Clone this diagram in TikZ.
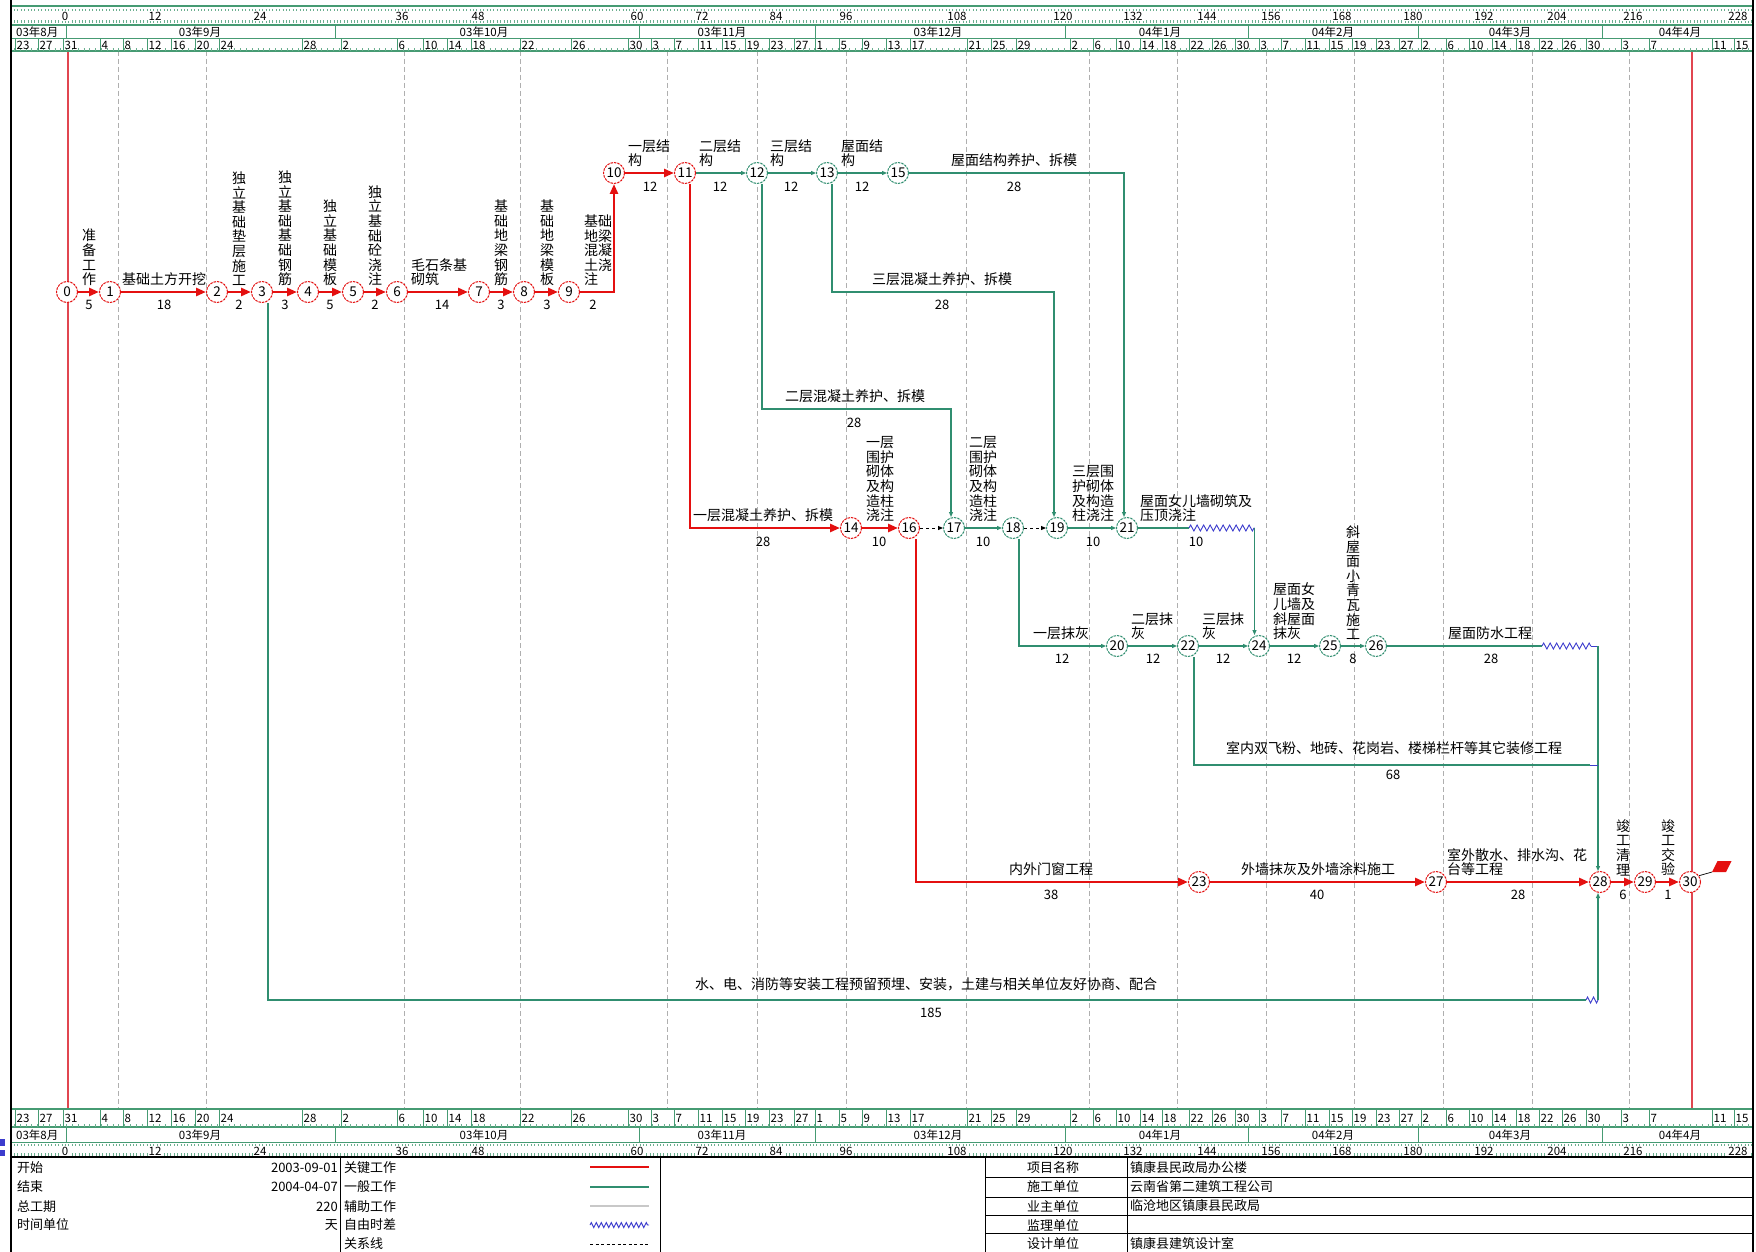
\documentclass[tikz,border=0pt]{standalone}
\usepackage{fontspec}
\setmainfont{Noto Sans CJK SC}
\usetikzlibrary{arrows.meta,decorations.pathmorphing,calc}
\definecolor{cred}{RGB}{228,16,16}
\definecolor{cgreen}{RGB}{48,142,112}
\definecolor{hgreen}{RGB}{70,155,115}
\definecolor{cgrid}{RGB}{175,175,175}
\definecolor{cblue}{RGB}{60,60,205}
\definecolor{cline}{RGB}{225,70,80}
\definecolor{cgray}{RGB}{200,200,200}
\newcommand{\lfont}{\fontsize{14}{14.6}\selectfont}
\newcommand{\nfont}{\fontsize{13}{13}\selectfont}
\newcommand{\cfont}{\fontsize{13.5}{13.5}\selectfont}
\newcommand{\hfont}{\fontsize{11.5}{12}\selectfont}
\newcommand{\gfont}{\fontsize{13}{14}\selectfont}
\begin{document}
\begin{tikzpicture}[x=1pt,y=-1pt,
  crit/.style={draw=cred,line width=2.7pt,-{Triangle[length=10pt,width=8pt]}},
  norm/.style={draw=cgreen,line width=1.1pt,-{Triangle[length=5pt,width=4pt]}},
  nrl/.style={draw=cgreen,line width=1.1pt},
  rel/.style={draw=black,line width=1pt,dash pattern=on 3pt off 3pt,-{Triangle[length=5pt,width=4pt]}},
  wav/.style={draw=cblue,line width=0.9pt,decorate,decoration={zigzag,segment length=6.5pt,amplitude=3pt}},
  nd/.style={circle,minimum size=21pt,inner sep=0pt,line width=1pt,dash pattern=on 2.5pt off 1pt,fill=white,font=\cfont},
  rn/.style={nd,draw=cred},
  gn/.style={nd,draw=cgreen},
  lab/.style={font=\lfont,align=left,inner sep=0pt,anchor=south},
  num/.style={font=\nfont,inner sep=0pt},
  hl/.style={font=\hfont,inner sep=0pt},
  gl/.style={font=\gfont,inner sep=0pt},
]
\useasboundingbox (0,0) rectangle (1756,1252);
\fill[white] (0,0) rectangle (1756,1252);

% grid lines
\foreach \gx in {118,206,404,520,667,757,846,966,1089,1177,1266,1354,1443,1532,1629}
  \draw[cgrid,line width=0.7pt,dash pattern=on 5pt off 3pt] (\gx,51) -- (\gx,1109);
% start / end lines
\draw[cline,line width=1.2pt] (68,51) -- (68,1109);
\draw[cline,line width=1.2pt] (1692,51) -- (1692,1109);

% ===== headers =====
\begin{scope}
\clip (11,0) rectangle (1753,1252);
% top
\draw[hgreen,line width=2pt] (11,6) -- (1753,6);
\draw[hgreen,line width=1.2pt] (11,25) -- (1753,25);
\draw[hgreen,line width=1pt] (11,39) -- (1753,39);
\draw[hgreen,line width=1.2pt] (11,51) -- (1753,51);
\draw[hgreen!80,line width=2.5pt,dash pattern=on 0.8pt off 2.6pt] (14,10) -- (1753,10);
\draw[hgreen!80,line width=2.5pt,dash pattern=on 0.8pt off 2.6pt] (14,21.5) -- (1753,21.5);
\draw[hgreen!80,line width=2.5pt,dash pattern=on 0.8pt off 5pt] (14,49.5) -- (1753,49.5);
% bottom
\draw[hgreen,line width=2pt] (11,1109) -- (1753,1109);
\draw[hgreen,line width=1.2pt] (11,1127) -- (1753,1127);
\draw[hgreen,line width=1pt] (11,1142) -- (1753,1142);
\draw[hgreen!80,line width=2.5pt,dash pattern=on 0.8pt off 5pt] (14,1125.5) -- (1753,1125.5);
\draw[hgreen!80,line width=2.5pt,dash pattern=on 0.8pt off 2.6pt] (14,1145) -- (1753,1145);
\draw[hgreen!80,line width=2.5pt,dash pattern=on 0.8pt off 2.6pt] (14,1154.5) -- (1753,1154.5);
% month separators
\foreach \mx in {66,335,639,815,1065,1248,1418,1602} {
  \draw[hgreen,line width=1pt] (\mx,25) -- (\mx,39);
  \draw[hgreen,line width=1pt] (\mx,1127) -- (\mx,1142);
}
% month labels
\node[hl,anchor=west] (mt0) at (16,32) {03年8月};
\node[hl,anchor=west] (mb0) at (16,1135) {03年8月};
\foreach \mx/\mt [count=\i] in {200/03年9月,484/03年10月,722/03年11月,938/03年12月,1160/04年1月,1333/04年2月,1510/04年3月,1680/04年4月} {
  \node[hl] (mt\i) at (\mx,32) {\mt};
  \node[hl] (mb\i) at (\mx,1135) {\mt};
}
% dates
\foreach \dx/\dt [count=\i] in {15/23,38/27,63/31,100/4,123/8,147/12,171/16,195/20,219/24,302/28,341/2,397/6,423/10,447/14,471/18,520/22,571/26,628/30,651/3,674/7,698/11,722/15,745/19,769/23,794/27,815/1,839/5,862/9,886/13,910/17,967/21,991/25,1016/29,1070/2,1093/6,1116/10,1140/14,1162/18,1189/22,1212/26,1235/30,1259/3,1281/7,1305/11,1329/15,1352/19,1376/23,1399/27,1421/2,1446/6,1469/10,1492/14,1516/18,1539/22,1562/26,1586/30,1621/3,1649/7,1712/11,1734/15} {
  \draw[hgreen,line width=0.9pt] (\dx,39) -- (\dx,51);
  \draw[hgreen,line width=0.9pt] (\dx,1109) -- (\dx,1127);
  \node[hl,anchor=west] (dt\i) at (\dx+1.5,45) {\dt};
  \node[hl,anchor=west] (db\i) at (\dx+1.5,1118) {\dt};
}
% day numbers
\foreach \nx/\nt [count=\i] in {65/0,155/12,260/24,402/36,478/48,637/60,702/72,776/84,846/96,957/108,1063/120,1133/132,1207/144,1271/156,1342/168,1413/180,1484/192,1557/204,1633/216,1738/228} {
  \node[hl,fill=white,inner sep=1pt] (nt\i) at (\nx,16) {\nt};
  \node[hl,fill=white,inner sep=1pt] (nb\i) at (\nx,1151) {\nt};
}
\end{scope}

% frame
\draw[black,line width=2.5pt] (11,0) -- (11,1252);
\draw[black,line width=2pt] (1753,0) -- (1753,1252);
\fill[cblue] (0,1139) rectangle (5,1146);
\fill[cblue] (0,1150) rectangle (5,1156);

% ===== nodes =====
\node[rn] (n0) at (67,292) {0};
\node[rn] (n1) at (110,292) {1};
\node[rn] (n2) at (217,292) {2};
\node[rn] (n3) at (262,292) {3};
\node[rn] (n4) at (308,292) {4};
\node[rn] (n5) at (353,292) {5};
\node[rn] (n6) at (397,292) {6};
\node[rn] (n7) at (479,292) {7};
\node[rn] (n8) at (524,292) {8};
\node[rn] (n9) at (569,292) {9};
\node[rn] (n10) at (614,173) {10};
\node[rn] (n11) at (685,173) {11};
\node[gn] (n12) at (757,173) {12};
\node[gn] (n13) at (827,173) {13};
\node[gn] (n15) at (898,173) {15};
\node[rn] (n14) at (851,528) {14};
\node[rn] (n16) at (909,528) {16};
\node[gn] (n17) at (954,528) {17};
\node[gn] (n18) at (1013,528) {18};
\node[gn] (n19) at (1057,528) {19};
\node[gn] (n21) at (1127,528) {21};
\node[gn] (n20) at (1117,646) {20};
\node[gn] (n22) at (1188,646) {22};
\node[gn] (n24) at (1259,646) {24};
\node[gn] (n25) at (1330,646) {25};
\node[gn] (n26) at (1376,646) {26};
\node[rn] (n23) at (1199,882) {23};
\node[rn] (n27) at (1436,882) {27};
\node[rn] (n28) at (1600,882) {28};
\node[rn] (n29) at (1645,882) {29};
\node[rn] (n30) at (1690,882) {30};

% helper coordinates
\coordinate (c12) at (951,409);
\coordinate (c13) at (1054,292);
\coordinate (w21a) at (1189,528);
\coordinate (w21b) at (1254.5,528);
\coordinate (w26a) at (1542,646);
\coordinate (w26b) at (1591,646);
\coordinate (c26) at (1598,646);
\coordinate (c22a) at (1590,765);
\coordinate (c22) at (1598,765);
\coordinate (w3a) at (1586,1000);
\coordinate (c3) at (1598,1000);
\coordinate (fl) at (1712,872);

% ===== connectors =====
\draw[crit] (n0) -- (n1);
\draw[crit] (n1) -- (n2);
\draw[crit] (n2) -- (n3);
\draw[crit] (n3) -- (n4);
\draw[crit] (n4) -- (n5);
\draw[crit] (n5) -- (n6);
\draw[crit] (n6) -- (n7);
\draw[crit] (n7) -- (n8);
\draw[crit] (n8) -- (n9);
\draw[crit] (n9.east) -| (n10.south);
\draw[crit] (n10) -- (n11);
\draw[norm] (n11) -- (n12);
\draw[norm] (n12) -- (n13);
\draw[norm] (n13) -- (n15);
\draw[norm] (n15.east) -| ([xshift=-3pt]n21.north);
\draw[crit] ([xshift=5pt]n11.south) |- (n14.west);
\draw[norm] ([xshift=5pt]n12.south) |- (c12) -- ([xshift=-3pt]n17.north);
\draw[norm] ([xshift=5pt]n13.south) |- (c13) -- ([xshift=-3pt]n19.north);
\draw[crit] (n14) -- (n16);
\draw[rel] (n16) -- (n17);
\draw[norm] (n17) -- (n18);
\draw[rel] (n18) -- (n19);
\draw[norm] (n19) -- (n21);
\draw[nrl] (n21) -- (w21a);
\draw[wav] (w21a) -- (w21b);
\draw[norm] (w21b) -- ([xshift=-4.5pt]n24.north);
\draw[norm] ([xshift=6pt]n18.south) |- (n20.west);
\draw[norm] (n20) -- (n22);
\draw[norm] (n22) -- (n24);
\draw[norm] (n24) -- (n25);
\draw[norm] (n25) -- (n26);
\draw[nrl] (n26) -- (w26a);
\draw[wav] (w26a) -- (w26b);
\draw[draw=cblue,line width=1pt] (w26b) -- (c26);
\draw[norm] (c26) -- ([xshift=-2pt]n28.north);
\draw[nrl] ([xshift=6pt]n22.south) |- (c22a);
\draw[draw=cblue,line width=1pt] (c22a) -- (c22);
\draw[crit] ([xshift=7pt]n16.south) |- (n23.west);
\draw[crit] (n23) -- (n27);
\draw[crit] (n27) -- (n28);
\draw[crit] (n28) -- (n29);
\draw[crit] (n29) -- (n30);
\draw[nrl] ([xshift=6pt]n3.south) |- (w3a);
\draw[wav,decoration={zigzag,segment length=6pt,amplitude=3pt}] (w3a) -- (c3);
\draw[norm] (c3) -- ([xshift=-2pt]n28.south);
\draw[line width=0.7pt] (n30.35) -- (fl);
\fill[cred] (fl) -- ++(5.5,-11) -- ++(14,0) -- ++(-5.5,11) -- cycle;

% ===== activity labels =====
\node[lab] (t01) at (89,286) {准\\备\\工\\作};
\node[lab] (t12) at (164,286) {基础土方开挖};
\node[lab] (t23) at (239,286) {独\\立\\基\\础\\垫\\层\\施\\工};
\node[lab] (t34) at (285,286) {独\\立\\基\\础\\基\\础\\钢\\筋};
\node[lab] (t45) at (330,286) {独\\立\\基\\础\\模\\板};
\node[lab] (t56) at (375,286) {独\\立\\基\\础\\砼\\浇\\注};
\node[lab] (t67) at (439,286) {毛石条基\\砌筑};
\node[lab] (t78) at (501,286) {基\\础\\地\\梁\\钢\\筋};
\node[lab] (t89) at (547,286) {基\\础\\地\\梁\\模\\板};
\node[lab] (t910) at (598,286) {基础\\地梁\\混凝\\土浇\\注};
\node[num] (d01) at (89,305) {5};
\node[num] (d12) at (164,305) {18};
\node[num] (d23) at (239,305) {2};
\node[num] (d34) at (285,305) {3};
\node[num] (d45) at (330,305) {5};
\node[num] (d56) at (375,305) {2};
\node[num] (d67) at (442,305) {14};
\node[num] (d78) at (501,305) {3};
\node[num] (d89) at (547,305) {3};
\node[num] (d910) at (593,305) {2};

\node[lab] (t1011) at (649,167) {一层结\\构};
\node[lab] (t1112) at (720,167) {二层结\\构};
\node[lab] (t1213) at (791,167) {三层结\\构};
\node[lab] (t1315) at (862,167) {屋面结\\构};
\node[lab] (t1521) at (1014,167) {屋面结构养护、拆模};
\node[num] (d1011) at (650,187) {12};
\node[num] (d1112) at (720,187) {12};
\node[num] (d1213) at (791,187) {12};
\node[num] (d1315) at (862,187) {12};
\node[num] (d1521) at (1014,187) {28};

\node[lab] (t1319) at (942,286) {三层混凝土养护、拆模};
\node[num] (d1319) at (942,305) {28};
\node[lab] (t1217) at (855,403) {二层混凝土养护、拆模};
\node[num] (d1217) at (854,423) {28};

\node[lab] (t1114) at (763,522) {一层混凝土养护、拆模};
\node[num] (d1114) at (763,542) {28};
\node[lab] (t1416) at (880,522) {一层\\围护\\砌体\\及构\\造柱\\浇注};
\node[num] (d1416) at (879,542) {10};
\node[lab] (t1718) at (983,522) {二层\\围护\\砌体\\及构\\造柱\\浇注};
\node[num] (d1718) at (983,542) {10};
\node[lab] (t1921) at (1093,522) {三层围\\护砌体\\及构造\\柱浇注};
\node[num] (d1921) at (1093,542) {10};
\node[lab,anchor=south west] (t2124) at (1140,522) {屋面女儿墙砌筑及\\压顶浇注};
\node[num] (d2124) at (1196,542) {10};

\node[lab] (t1820) at (1061,640) {一层抹灰};
\node[num] (d1820) at (1062,659) {12};
\node[lab] (t2022) at (1152,640) {二层抹\\灰};
\node[num] (d2022) at (1153,659) {12};
\node[lab] (t2224) at (1223,640) {三层抹\\灰};
\node[num] (d2224) at (1223,659) {12};
\node[lab] (t2425) at (1294,640) {屋面女\\儿墙及\\斜屋面\\抹灰};
\node[num] (d2425) at (1294,659) {12};
\node[lab] (t2526) at (1353,640) {斜\\屋\\面\\小\\青\\瓦\\施\\工};
\node[num] (d2526) at (1353,659) {8};
\node[lab] (t2628) at (1490,640) {屋面防水工程};
\node[num] (d2628) at (1491,659) {28};
\node[lab] (t2228) at (1394,755) {室内双飞粉、地砖、花岗岩、楼梯栏杆等其它装修工程};
\node[num] (d2228) at (1393,775) {68};

\node[lab] (t1623) at (1051,876) {内外门窗工程};
\node[num] (d1623) at (1051,895) {38};
\node[lab] (t2327) at (1318,876) {外墙抹灰及外墙涂料施工};
\node[num] (d2327) at (1317,895) {40};
\node[lab,anchor=south west] (t2728) at (1447,876) {室外散水、排水沟、花\\台等工程};
\node[num] (d2728) at (1518,895) {28};
\node[lab] (t2829) at (1623,876) {竣\\工\\清\\理};
\node[num] (d2829) at (1623,895) {6};
\node[lab] (t2930) at (1668,876) {竣\\工\\交\\验};
\node[num] (d2930) at (1668,895) {1};
\node[lab] (t0328) at (926,991) {水、电、消防等安装工程预留预埋、安装，土建与相关单位友好协商、配合};
\node[num] (d0328) at (931,1013) {185};

% ===== legend =====
\draw[black,line width=1.5pt] (11,1157) -- (1753,1157);
\draw[black,line width=1pt] (340,1157) -- (340,1252);
\draw[black,line width=1pt] (660,1157) -- (660,1252);
\draw[black,line width=1pt] (985,1157) -- (985,1252);
\draw[black,line width=1pt] (1127,1157) -- (1127,1252);
\foreach \ly in {1177,1197,1215,1233}
  \draw[black,line width=1pt] (985,\ly) -- (1753,\ly);
\foreach \ly/\la/\lb [count=\i] in {1168/开始/2003-09-01,1187/结束/2004-04-07,1207/总工期/220,1225/时间单位/天} {
  \node[gl,anchor=west] (lga\i) at (17,\ly) {\la};
  \node[gl,anchor=east] (lgb\i) at (338,\ly) {\lb};
}
\foreach \ly/\la [count=\i] in {1168/关键工作,1187/一般工作,1207/辅助工作,1225/自由时差,1244/关系线}
  \node[gl,anchor=west] (lgc\i) at (344,\ly) {\la};
\draw[cred,line width=2.4pt] (590,1167) -- (649,1167);
\draw[cgreen,line width=1.2pt] (590,1187) -- (649,1187);
\draw[cgray,line width=1.2pt] (590,1206) -- (649,1206);
\draw[draw=cblue,line width=0.9pt,decorate,decoration={zigzag,segment length=5pt,amplitude=2.5pt}] (590,1225) -- (649,1225);
\draw[black,line width=1pt,dash pattern=on 3pt off 2.5pt] (590,1244) -- (649,1244);
\foreach \ly/\la/\lb [count=\i] in {1168/项目名称/镇康县民政局办公楼,1187/施工单位/云南省第二建筑工程公司,1206/业主单位/临沧地区镇康县民政局,1225/监理单位/{},1244/设计单位/镇康县建筑设计室} {
  \node[gl] (lgd\i) at (1053,\ly) {\la};
  \node[gl,anchor=west] (lge\i) at (1130,\ly) {\lb};
}
\end{tikzpicture}
\end{document}
